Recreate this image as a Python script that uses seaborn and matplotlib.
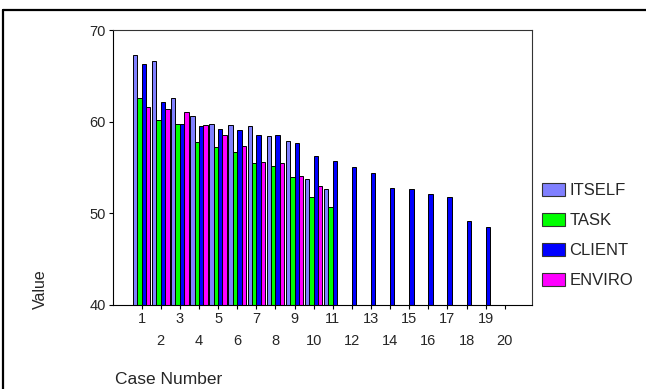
import numpy as np
import pandas as pd
import matplotlib
matplotlib.use("Agg")
import matplotlib.pyplot as plt
import seaborn as sns
from matplotlib.patches import Patch
from matplotlib.lines import Line2D

cases = [str(i) for i in range(1, 21)]
nan = np.nan
itself = [67.3, 66.6, 62.6, 60.6, 59.8, 59.6, 59.5, 58.4, 57.9, 53.8, 52.7,
          nan, nan, nan, nan, nan, nan, nan, nan, nan]
task = [62.6, 60.2, 59.8, 57.8, 57.2, 56.7, 55.5, 55.2, 54.0, 51.8, 50.7,
        nan, nan, nan, nan, nan, nan, nan, nan, nan]
client = [66.3, 62.1, 59.8, 59.5, 59.2, 59.1, 58.5, 58.55, 57.7, 56.3, 55.7,
          55.1, 54.35, 52.8, 52.7, 52.15, 51.8, 49.2, 48.5, nan]
enviro = [61.6, 61.4, 61.05, 59.6, 58.5, 57.3, 55.65, 55.5, 54.1, 53.0, nan,
          nan, nan, nan, nan, nan, nan, nan, nan, nan]
series_names = ["ITSELF", "TASK", "CLIENT", "ENVIRO"]
legend_labels = ["ITSELF", "TASK", "CLIENT", "ENVIRO"]
colors = ["#8080FF", "#00FF00", "#0000FF", "#FF00FF"]
yticks = [40, 50, 60, 70]

rows = []
for name, vals in zip(series_names, [itself, task, client, enviro]):
    for c, v in zip(cases, vals):
        rows.append({"Case": c, "Series": name, "Value": v})
df = pd.DataFrame(rows)

sns.set_theme(style="white")
plt.rcParams["font.family"] = ["Liberation Sans", "DejaVu Sans"]

fig = plt.figure(figsize=(6.46, 3.89), dpi=100)
ax = fig.add_axes([113/646, 1-305/389, (531.5-113)/646, (305-30)/389])

sns.barplot(data=df, x="Case", y="Value", hue="Series", order=cases,
            hue_order=series_names, palette=colors, width=0.92,
            edgecolor="black", linewidth=0.7, errorbar=None, ax=ax,
            legend=False, saturation=1)

ax.set_ylim(40, 70)
ax.set_yticks(yticks)
ax.set_yticklabels([str(t) for t in yticks], fontsize=10.5)
ax.set_xlim(-1.5, 20.4)
ax.set_xticks(range(len(cases)))
ax.set_xticklabels([c if int(c) % 2 == 1 else "\n" + c for c in cases], fontsize=10.5)
for lab in ax.get_xticklabels():
    lab.set_linespacing(1.7)
ax.tick_params(axis="both", which="both", direction="out", length=3, width=0.8,
               color="black", pad=2, bottom=True, left=True)
ax.tick_params(axis="x", pad=2)
for s in ax.spines.values():
    s.set_color("#333333")
    s.set_linewidth(0.8)
ax.spines["left"].set_color("black")
ax.spines["bottom"].set_color("black")
ax.set_xlabel("")
ax.set_ylabel("")

fig.text(40/646, 1-289/389, "Value", rotation=90, ha="center", va="center", fontsize=11.5)
fig.text(115/646, 1-380/389, "Case Number", ha="left", va="center", fontsize=12.5)

handles = [Patch(facecolor=c, edgecolor="#333333", linewidth=0.8) for c in colors]
leg = fig.legend(handles, legend_labels, loc="upper left",
                 bbox_to_anchor=(542/646, 1-183/389), frameon=False, fontsize=12,
                 handlelength=1.35, handleheight=0.8, labelspacing=0.89,
                 handletextpad=0.3, borderaxespad=0, borderpad=0)

fig.add_artist(Line2D([3/646, 1.0], [1-10/389, 1-10/389], color="black", lw=1.6,
                      transform=fig.transFigure))
fig.add_artist(Line2D([3/646, 3/646], [0, 1-10/389], color="black", lw=1.6,
                      transform=fig.transFigure))

fig.savefig("out.png", dpi=100)
